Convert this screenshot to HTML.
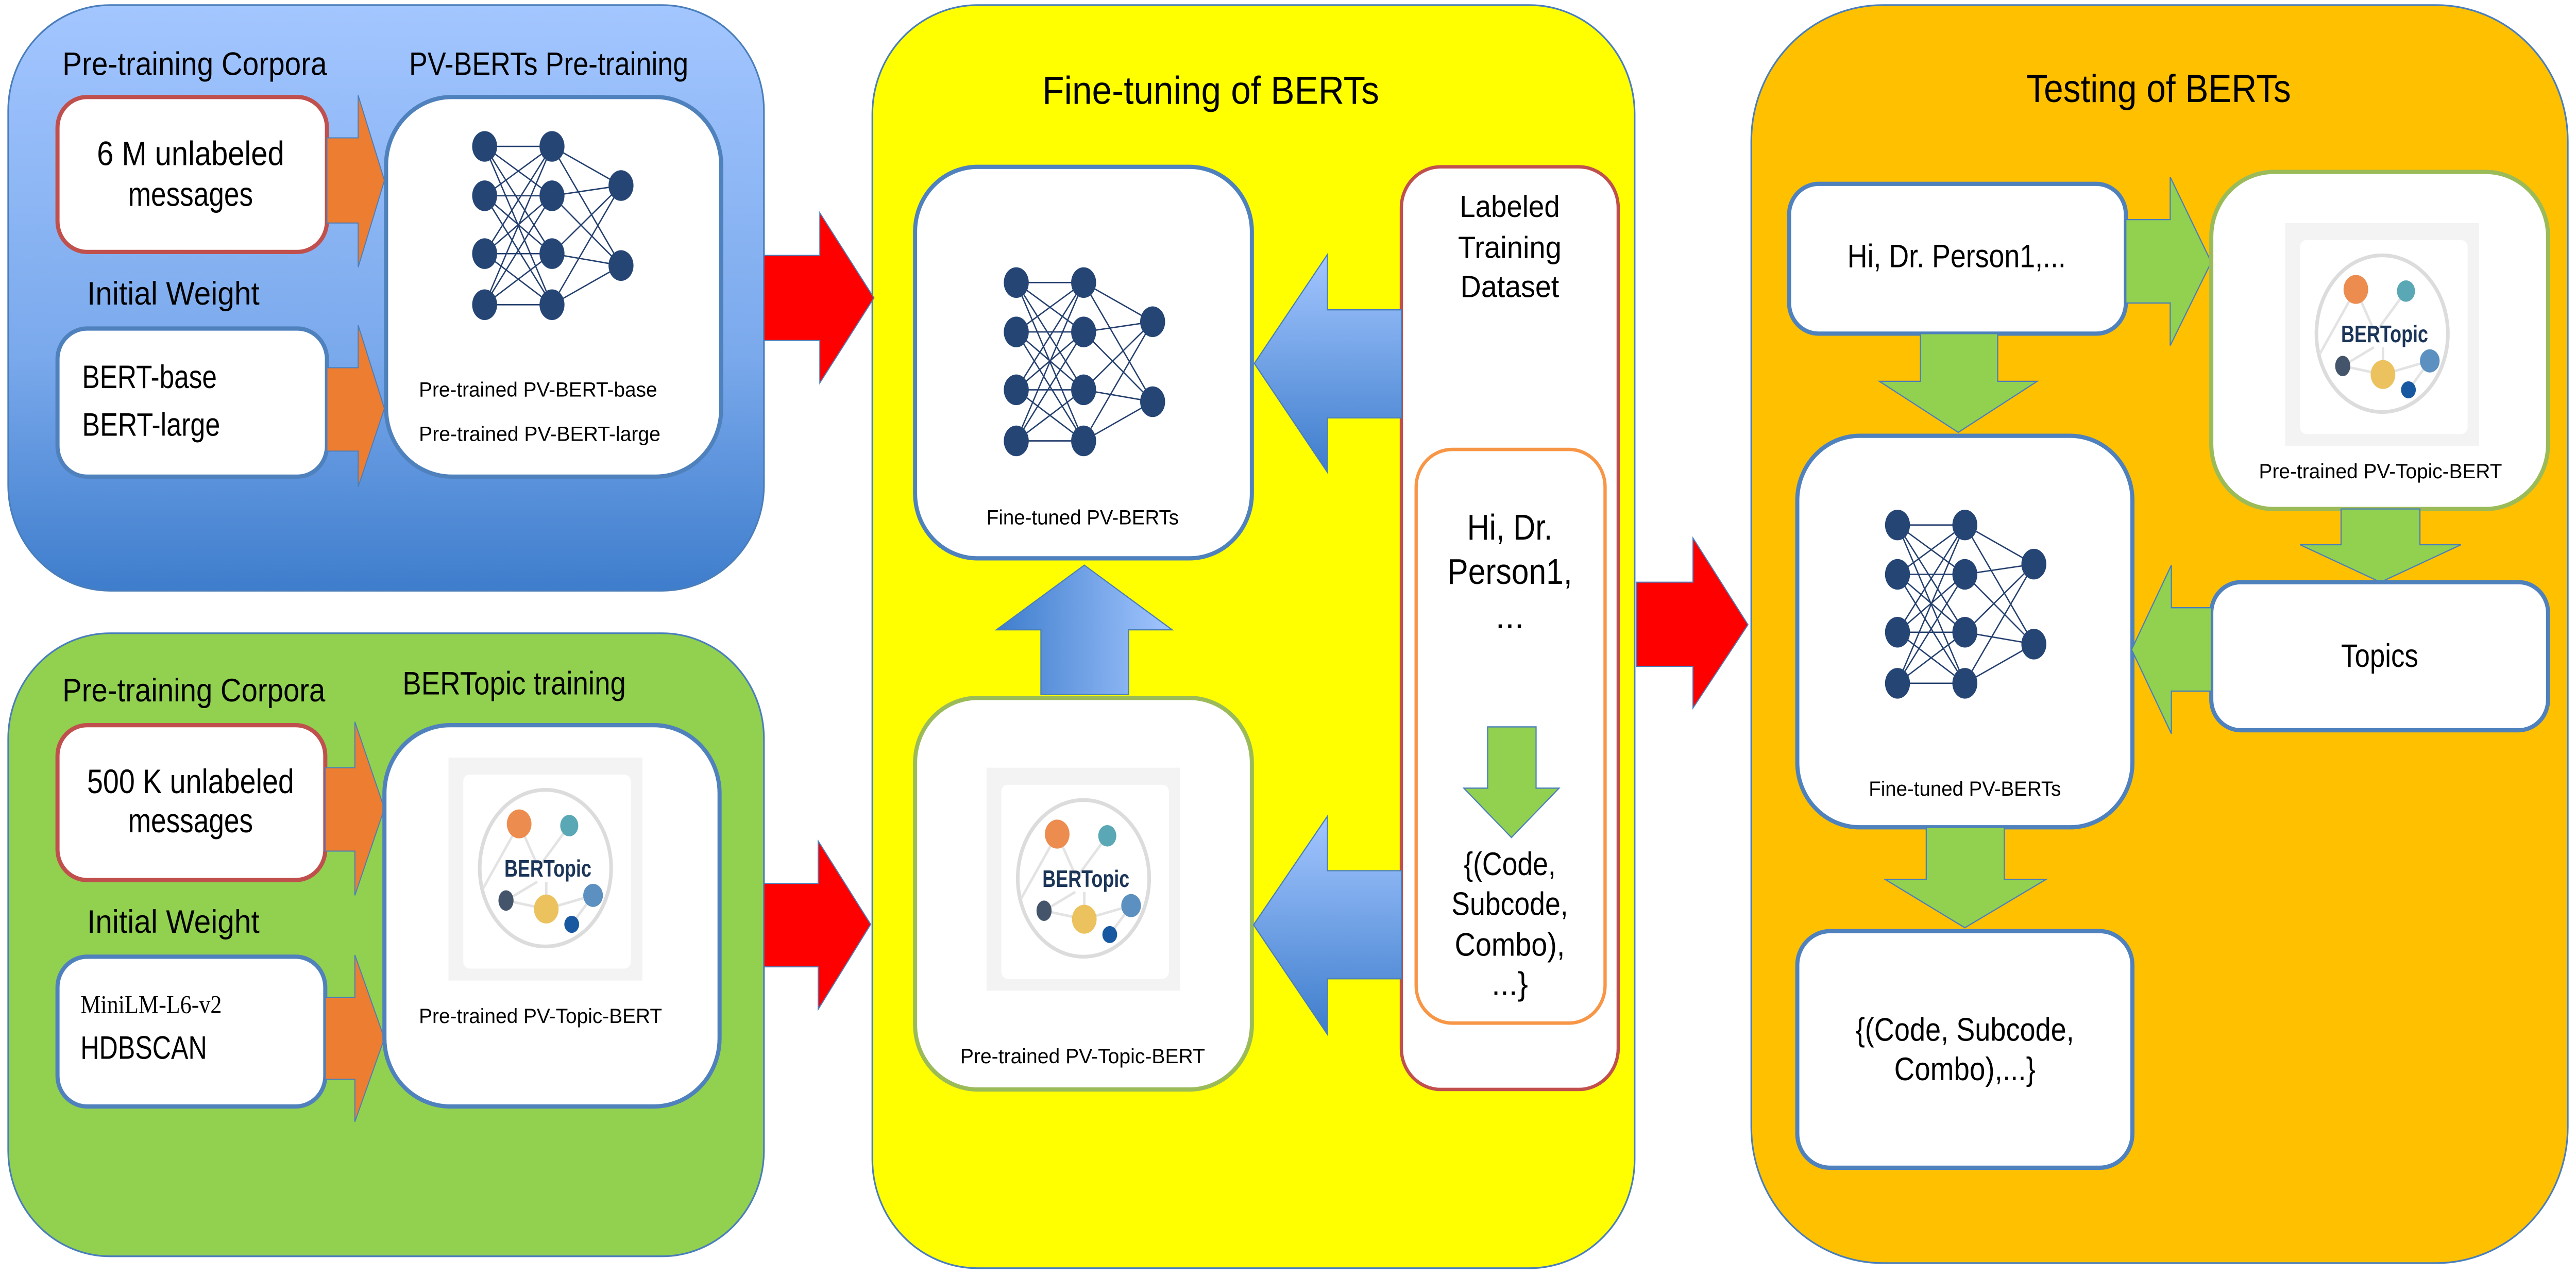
<!DOCTYPE html>
<html><head><meta charset="utf-8"><style>html,body{margin:0;padding:0;background:#fff;overflow:hidden;width:100%;height:100%}svg{display:block;width:100vw;height:100vh}text{font-family:"Liberation Sans",sans-serif;fill:#000}</style></head>
<body>
<svg viewBox="0 0 1568 749" preserveAspectRatio="none" xmlns="http://www.w3.org/2000/svg">
<defs>
<linearGradient id="bp" x1="0" y1="0" x2="0" y2="1"><stop offset="0" stop-color="#a3c6ff"/><stop offset="0.6" stop-color="#7aa9ec"/><stop offset="1" stop-color="#3e7dcc"/></linearGradient>
<linearGradient id="ba" x1="0" y1="0" x2="0" y2="1"><stop offset="0" stop-color="#a3c6ff"/><stop offset="1" stop-color="#3e7dcc"/></linearGradient>
<linearGradient id="bu" x1="0" y1="0" x2="1" y2="0"><stop offset="0" stop-color="#3e7dcc"/><stop offset="1" stop-color="#a3c6ff"/></linearGradient>
<g id="net">
<g stroke="#243f6e" stroke-width="0.8">
<path d="M0 0L41 0M0 0L41 29M0 0L41 63M0 0L41 93M0 29L41 0M0 29L41 29M0 29L41 63M0 29L41 93M0 63L41 0M0 63L41 29M0 63L41 63M0 63L41 93M0 93L41 0M0 93L41 29M0 93L41 63M0 93L41 93M41 0L83 23M41 0L83 70M41 29L83 23M41 29L83 70M41 63L83 23M41 63L83 70M41 93L83 23M41 93L83 70"/>
</g>
<g fill="#254575">
<ellipse cx="0" cy="0" rx="7.6" ry="9"/><ellipse cx="0" cy="29" rx="7.6" ry="9"/><ellipse cx="0" cy="63" rx="7.6" ry="9"/><ellipse cx="0" cy="93" rx="7.6" ry="9"/>
<ellipse cx="41" cy="0" rx="7.6" ry="9"/><ellipse cx="41" cy="29" rx="7.6" ry="9"/><ellipse cx="41" cy="63" rx="7.6" ry="9"/><ellipse cx="41" cy="93" rx="7.6" ry="9"/>
<ellipse cx="83" cy="23" rx="7.6" ry="9"/><ellipse cx="83" cy="70" rx="7.6" ry="9"/>
</g></g>
<g id="logo">
<rect x="-59" y="-65" width="118" height="131" fill="#f3f3f3"/>
<rect x="-50" y="-55" width="102" height="114" rx="4" fill="#fff"/>
<ellipse cx="0" cy="0" rx="40" ry="46" fill="none" stroke="#dcdcdc" stroke-width="2.2"/>
<g stroke="#e3e3e3" stroke-width="1.5" fill="none"><path d="M-16 -26L-5 -2M14.5 -25L-3 -2M-16 -26L-38 12M-5 8L-24 19M0.5 24L-24 19M0.5 24L29 16M0.5 8L0.5 24M29 16L16 33"/></g>
<ellipse cx="-16" cy="-26" rx="7.5" ry="8.5" fill="#ed8c4f"/>
<ellipse cx="14.5" cy="-25" rx="5.5" ry="6.3" fill="#5aa8b5"/>
<ellipse cx="-24" cy="19" rx="4.6" ry="6" fill="#44546a"/>
<ellipse cx="0.5" cy="24" rx="7.5" ry="8.5" fill="#ebc25e"/>
<ellipse cx="29" cy="16" rx="6" ry="6.8" fill="#5b90c0"/>
<ellipse cx="16" cy="33" rx="4.5" ry="5" fill="#1858a0"/>
<text x="1.5" y="5" text-anchor="middle" font-size="14" font-weight="bold" style="fill:#1b3558" textLength="53" lengthAdjust="spacingAndGlyphs">BERTopic</text>
</g>
</defs>

<rect x="5" y="3" width="460" height="344" rx="62" fill="url(#bp)" stroke="#4a7ebb" stroke-width="1"/>
<rect x="5" y="372" width="460" height="366" rx="62" fill="#92d050" stroke="#4a7ebb" stroke-width="1"/>
<rect x="531" y="3" width="464" height="742" rx="64" fill="#ffff00" stroke="#4a7ebb" stroke-width="1"/>
<rect x="1066" y="3" width="497" height="739" rx="80" fill="#ffc000" stroke="#4a7ebb" stroke-width="1"/>

<text x="38" y="44" font-size="19" textLength="161" lengthAdjust="spacingAndGlyphs">Pre-training Corpora</text>
<text x="249" y="44" font-size="19" textLength="170" lengthAdjust="spacingAndGlyphs">PV-BERTs Pre-training</text>
<rect x="35" y="57" width="164" height="91" rx="18" fill="#fff" stroke="#c0504d" stroke-width="2.5"/>
<text x="116" y="97" font-size="20" text-anchor="middle" textLength="114" lengthAdjust="spacingAndGlyphs">6 M unlabeled</text>
<text x="116" y="121" font-size="20" text-anchor="middle" textLength="76" lengthAdjust="spacingAndGlyphs">messages</text>
<polygon points="199,81 218,81 218,56 234,106 218,157 218,131 199,131" fill="#ed7d31" stroke="#4a7ebb" stroke-width="0.6"/>
<text x="53" y="179" font-size="19" textLength="105" lengthAdjust="spacingAndGlyphs">Initial Weight</text>
<rect x="35" y="193" width="164" height="87" rx="18" fill="#fff" stroke="#4f81bd" stroke-width="2.5"/>
<text x="50" y="228" font-size="19" textLength="82" lengthAdjust="spacingAndGlyphs">BERT-base</text>
<text x="50" y="256" font-size="19" textLength="84" lengthAdjust="spacingAndGlyphs">BERT-large</text>
<polygon points="199,216 218,216 218,191 234,240 218,286 218,265 199,265" fill="#ed7d31" stroke="#4a7ebb" stroke-width="0.6"/>
<rect x="235" y="57" width="204" height="223" rx="40" fill="#fff" stroke="#4f81bd" stroke-width="2.5"/>
<use href="#net" x="295" y="86"/>
<text x="255" y="233" font-size="12" textLength="145" lengthAdjust="spacingAndGlyphs">Pre-trained PV-BERT-base</text>
<text x="255" y="259" font-size="12" textLength="147" lengthAdjust="spacingAndGlyphs">Pre-trained PV-BERT-large</text>
<polygon points="465,150 499,150 499,125 532,175 499,225 499,200 465,200" fill="#ff0000" stroke="#4a7ebb" stroke-width="0.6"/>

<text x="38" y="412" font-size="19" textLength="160" lengthAdjust="spacingAndGlyphs">Pre-training Corpora</text>
<text x="245" y="408" font-size="19" textLength="136" lengthAdjust="spacingAndGlyphs">BERTopic training</text>
<rect x="35" y="426" width="163" height="91" rx="18" fill="#fff" stroke="#c0504d" stroke-width="2.5"/>
<text x="116" y="466" font-size="20" text-anchor="middle" textLength="126" lengthAdjust="spacingAndGlyphs">500 K unlabeled</text>
<text x="116" y="489" font-size="20" text-anchor="middle" textLength="76" lengthAdjust="spacingAndGlyphs">messages</text>
<polygon points="198,451 216,451 216,424 234,475 216,526 216,500 198,500" fill="#ed7d31" stroke="#4a7ebb" stroke-width="0.6"/>
<text x="53" y="548" font-size="19" textLength="105" lengthAdjust="spacingAndGlyphs">Initial Weight</text>
<rect x="35" y="562" width="163" height="88" rx="18" fill="#fff" stroke="#4f81bd" stroke-width="2.5"/>
<text x="49" y="595" font-size="15" style="font-family:'Liberation Serif',serif" textLength="86" lengthAdjust="spacingAndGlyphs">MiniLM-L6-v2</text>
<text x="49" y="622" font-size="19" textLength="77" lengthAdjust="spacingAndGlyphs">HDBSCAN</text>
<polygon points="198,586 216,586 216,561 234,610 216,659 216,634 198,634" fill="#ed7d31" stroke="#4a7ebb" stroke-width="0.6"/>
<rect x="234" y="426" width="204" height="224" rx="40" fill="#fff" stroke="#4f81bd" stroke-width="2.5"/>
<use href="#logo" x="332" y="510"/>
<text x="255" y="601" font-size="12" textLength="148" lengthAdjust="spacingAndGlyphs">Pre-trained PV-Topic-BERT</text>
<polygon points="465,519 498,519 498,494 530,543 498,593 498,568 465,568" fill="#ff0000" stroke="#4a7ebb" stroke-width="0.6"/>

<text x="737" y="61" font-size="23" text-anchor="middle" textLength="205" lengthAdjust="spacingAndGlyphs">Fine-tuning of BERTs</text>
<rect x="557" y="98" width="205" height="230" rx="38" fill="#fff" stroke="#4f81bd" stroke-width="2.5"/>
<use href="#net" x="618.6" y="166"/>
<text x="659" y="308" font-size="12" text-anchor="middle" textLength="117" lengthAdjust="spacingAndGlyphs">Fine-tuned PV-BERTs</text>
<rect x="853" y="98" width="132" height="542" rx="24" fill="#fff" stroke="#c0504d" stroke-width="2"/>
<text x="919" y="127.5" font-size="18" text-anchor="middle" textLength="61" lengthAdjust="spacingAndGlyphs">Labeled</text>
<text x="919" y="151.5" font-size="18" text-anchor="middle" textLength="63" lengthAdjust="spacingAndGlyphs">Training</text>
<text x="919" y="174.5" font-size="18" text-anchor="middle" textLength="60" lengthAdjust="spacingAndGlyphs">Dataset</text>
<rect x="862" y="264" width="115" height="337" rx="22" fill="#fff" stroke="#f79646" stroke-width="2"/>
<text x="919" y="317" font-size="21" text-anchor="middle" textLength="52" lengthAdjust="spacingAndGlyphs">Hi, Dr.</text>
<text x="919" y="343" font-size="21" text-anchor="middle" textLength="76" lengthAdjust="spacingAndGlyphs">Person1,</text>
<text x="919" y="369" font-size="21" text-anchor="middle">...</text>
<polygon points="905.5,427 935,427 935,463 949,463 920,492 891,463 905.5,463" fill="#92d050" stroke="#4a7ebb" stroke-width="0.7"/>
<text x="919" y="514" font-size="19" text-anchor="middle" textLength="56" lengthAdjust="spacingAndGlyphs">{(Code,</text>
<text x="919" y="537.5" font-size="19" text-anchor="middle" textLength="71" lengthAdjust="spacingAndGlyphs">Subcode,</text>
<text x="919" y="561.5" font-size="19" text-anchor="middle" textLength="67" lengthAdjust="spacingAndGlyphs">Combo),</text>
<text x="919" y="584.5" font-size="19" text-anchor="middle">...}</text>
<polygon points="853,182 808,182 808,149.5 763.5,213.5 808,277.5 808,245.5 853,245.5" fill="url(#ba)" stroke="#4a7ebb" stroke-width="0.7"/>
<rect x="557" y="410" width="205" height="230" rx="38" fill="#fff" stroke="#9bbb59" stroke-width="2.5"/>
<use href="#logo" x="659.5" y="516"/>
<text x="659" y="624.5" font-size="12" text-anchor="middle" textLength="149" lengthAdjust="spacingAndGlyphs">Pre-trained PV-Topic-BERT</text>
<polygon points="633.6,408 687,408 687,370 713.5,370 660,332 606.5,370 633.6,370" fill="url(#bu)" stroke="#4a7ebb" stroke-width="0.7"/>
<polygon points="853,511.5 808,511.5 808,479.5 763,543.3 808,607.7 808,575 853,575" fill="url(#ba)" stroke="#4a7ebb" stroke-width="0.7"/>
<polygon points="996,342 1030.5,342 1030.5,316 1064,367 1030.5,416 1030.5,391.5 996,391.5" fill="#ff0000" stroke="#4a7ebb" stroke-width="0.6"/>

<text x="1314" y="60" font-size="23" text-anchor="middle" textLength="161" lengthAdjust="spacingAndGlyphs">Testing of BERTs</text>
<rect x="1089" y="108" width="205" height="88" rx="18" fill="#fff" stroke="#4f81bd" stroke-width="2.5"/>
<text x="1191" y="157" font-size="19" text-anchor="middle" textLength="133" lengthAdjust="spacingAndGlyphs">Hi, Dr. Person1,...</text>
<polygon points="1294,129 1321,129 1321,104 1346,154 1321,203 1321,178 1294,178" fill="#92d050" stroke="#4a7ebb" stroke-width="0.7"/>
<rect x="1346" y="101" width="205" height="198" rx="38" fill="#fff" stroke="#9bbb59" stroke-width="2.5"/>
<use href="#logo" x="1450" y="196"/>
<text x="1449" y="281" font-size="12" text-anchor="middle" textLength="148" lengthAdjust="spacingAndGlyphs">Pre-trained PV-Topic-BERT</text>
<polygon points="1169,196 1216,196 1216,224 1240,224 1192,254 1144,224 1169,224" fill="#92d050" stroke="#4a7ebb" stroke-width="0.7"/>
<polygon points="1425,299 1473,299 1473,320 1498,320 1449,342 1400,320 1425,320" fill="#92d050" stroke="#4a7ebb" stroke-width="0.7"/>
<rect x="1094" y="256" width="204" height="230" rx="38" fill="#fff" stroke="#4f81bd" stroke-width="2.5"/>
<use href="#net" x="1155" y="308.4"/>
<text x="1196" y="467.4" font-size="12" text-anchor="middle" textLength="117" lengthAdjust="spacingAndGlyphs">Fine-tuned PV-BERTs</text>
<rect x="1346" y="342" width="205" height="87" rx="18" fill="#fff" stroke="#4f81bd" stroke-width="2.5"/>
<text x="1448.5" y="391.7" font-size="19" text-anchor="middle" textLength="47" lengthAdjust="spacingAndGlyphs">Topics</text>
<polygon points="1346,357 1321.7,357 1321.7,332 1297.5,381.6 1321.7,431 1321.7,406 1346,406" fill="#92d050" stroke="#4a7ebb" stroke-width="0.7"/>
<polygon points="1172.5,486 1220,486 1220,516.6 1245.4,516.6 1196,545 1147.5,516.6 1172.5,516.6" fill="#92d050" stroke="#4a7ebb" stroke-width="0.7"/>
<rect x="1094" y="547" width="204" height="139" rx="20" fill="#fff" stroke="#4f81bd" stroke-width="2.5"/>
<text x="1196" y="611.4" font-size="19" text-anchor="middle" textLength="133" lengthAdjust="spacingAndGlyphs">{(Code, Subcode,</text>
<text x="1196" y="634.5" font-size="19" text-anchor="middle" textLength="86" lengthAdjust="spacingAndGlyphs">Combo),...}</text>
</svg>
</body></html>
